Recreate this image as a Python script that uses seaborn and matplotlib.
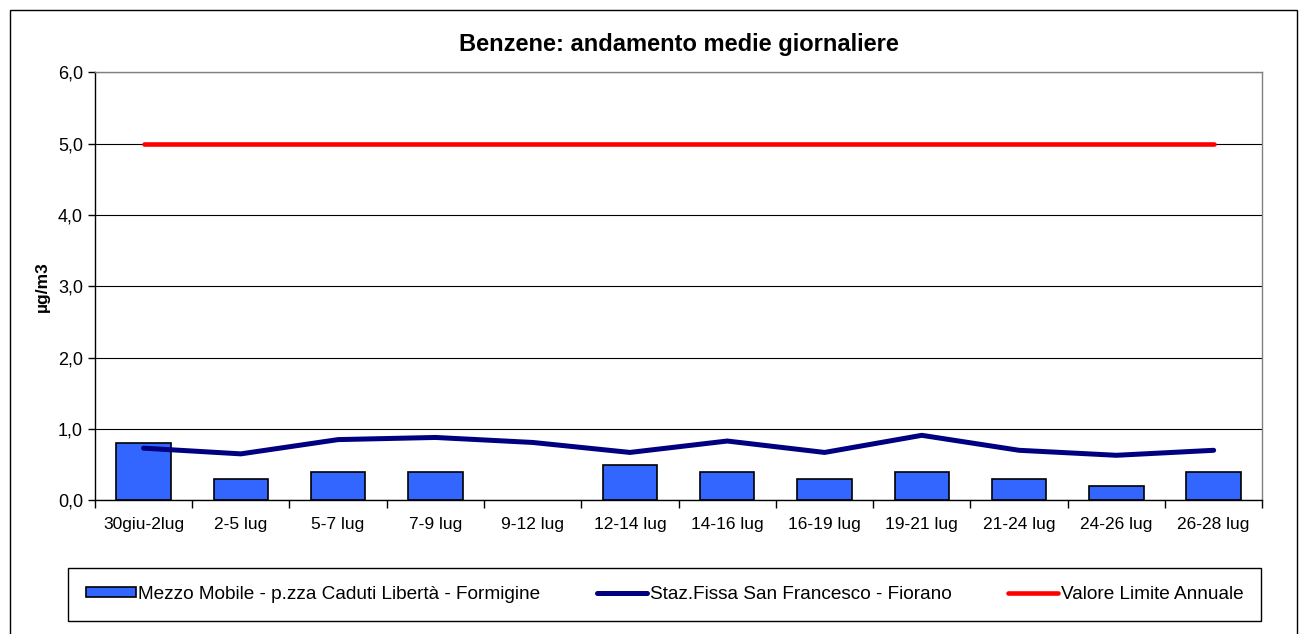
import numpy as np
import pandas as pd
import matplotlib
matplotlib.use('Agg')
import matplotlib.pyplot as plt
import seaborn as sns
from matplotlib.patches import Patch, Rectangle
from matplotlib.lines import Line2D

# Dati
periodi = ['30giu-2lug', '2-5 lug', '5-7 lug', '7-9 lug', '9-12 lug', '12-14 lug',
           '14-16 lug', '16-19 lug', '19-21 lug', '21-24 lug', '24-26 lug', '26-28 lug']
mezzo_mobile = [0.8, 0.3, 0.4, 0.4, np.nan, 0.5, 0.4, 0.3, 0.4, 0.3, 0.2, 0.4]
staz_fissa = [0.73, 0.65, 0.85, 0.88, 0.81, 0.67, 0.83, 0.67, 0.91, 0.70, 0.63, 0.70]
limite = [5.0] * len(periodi)

lbl_bar = 'Mezzo Mobile - p.zza Caduti Libertà - Formigine'
lbl_staz = 'Staz.Fissa San Francesco - Fiorano'
lbl_lim = 'Valore Limite Annuale'

sns.set_style('white')
plt.rcParams['font.family'] = ['Liberation Sans', 'DejaVu Sans']
for k in ['text.color', 'axes.labelcolor', 'xtick.color', 'ytick.color']:
    plt.rcParams[k] = 'black'

fig = plt.figure(figsize=(13, 6.34), dpi=100)
ax = fig.add_axes([0.073, 0.211, 0.898, 0.675])

df = pd.DataFrame({'periodo': periodi, 'valore': mezzo_mobile})
sns.barplot(data=df, x='periodo', y='valore', order=periodi, color='#3366FF',
            saturation=1, width=0.56, edgecolor='black', linewidth=1.2, ax=ax)

pos = np.arange(len(periodi))
sns.lineplot(x=pos, y=staz_fissa, color='#000080', linewidth=3.6, ax=ax)
sns.lineplot(x=pos, y=limite, color='#FF0000', linewidth=3.3, ax=ax)

ax.set_xlim(-0.5, len(periodi) - 0.5)
ax.set_ylim(0, 6)
ax.set_yticks(np.arange(0, 6.1, 1))
ax.set_yticklabels([f'{v:.1f}'.replace('.', ',') for v in np.arange(0, 6.1, 1)], fontsize=13)
ax.set_xticks(pos)
ax.set_xticklabels(periodi, fontsize=12.5)
ax.tick_params(axis='x', length=0, pad=12)
ax.tick_params(axis='y', length=5, width=1, direction='out', color='black', left=True)
# tacche tra le categorie
ax.set_xticks(np.arange(-0.5, len(periodi)), minor=True)
ax.tick_params(axis='x', which='minor', length=6, width=1, color='black', bottom=True, direction='out')

ax.yaxis.grid(True, color='black', linewidth=0.8)
ax.set_axisbelow(True)
for s in ['left', 'bottom']:
    ax.spines[s].set_color('black')
    ax.spines[s].set_linewidth(1)
for s in ['top', 'right']:
    ax.spines[s].set_color('#808080')
    ax.spines[s].set_linewidth(1)

ax.set_xlabel('')
ax.set_ylabel('µg/m3', fontsize=12.5, fontweight='bold', labelpad=6)
ax.set_title('Benzene: andamento medie giornaliere', fontsize=17, fontweight='bold', pad=15)

handles = [Patch(facecolor='#3366FF', edgecolor='black', linewidth=1.2, label=lbl_bar),
           Line2D([], [], color='#000080', linewidth=3.6, label=lbl_staz),
           Line2D([], [], color='#FF0000', linewidth=3.3, label=lbl_lim)]
leg = fig.legend(handles=handles, loc='center', ncol=3, fontsize=13.7,
                 bbox_to_anchor=(0.0523, 0.017, 0.918, 0.0915), mode='expand',
                 fancybox=False, edgecolor='black', framealpha=1,
                 handlelength=2.6, handleheight=0.4, handletextpad=0.15,
                 borderpad=0.95, borderaxespad=0)
leg.get_frame().set_linewidth(1)

# bordo del grafico
fig.patches.append(Rectangle((0.008, -0.01), 0.99, 0.995, transform=fig.transFigure,
                             fill=False, edgecolor='black', linewidth=1))

fig.savefig('out.png', dpi=100)
